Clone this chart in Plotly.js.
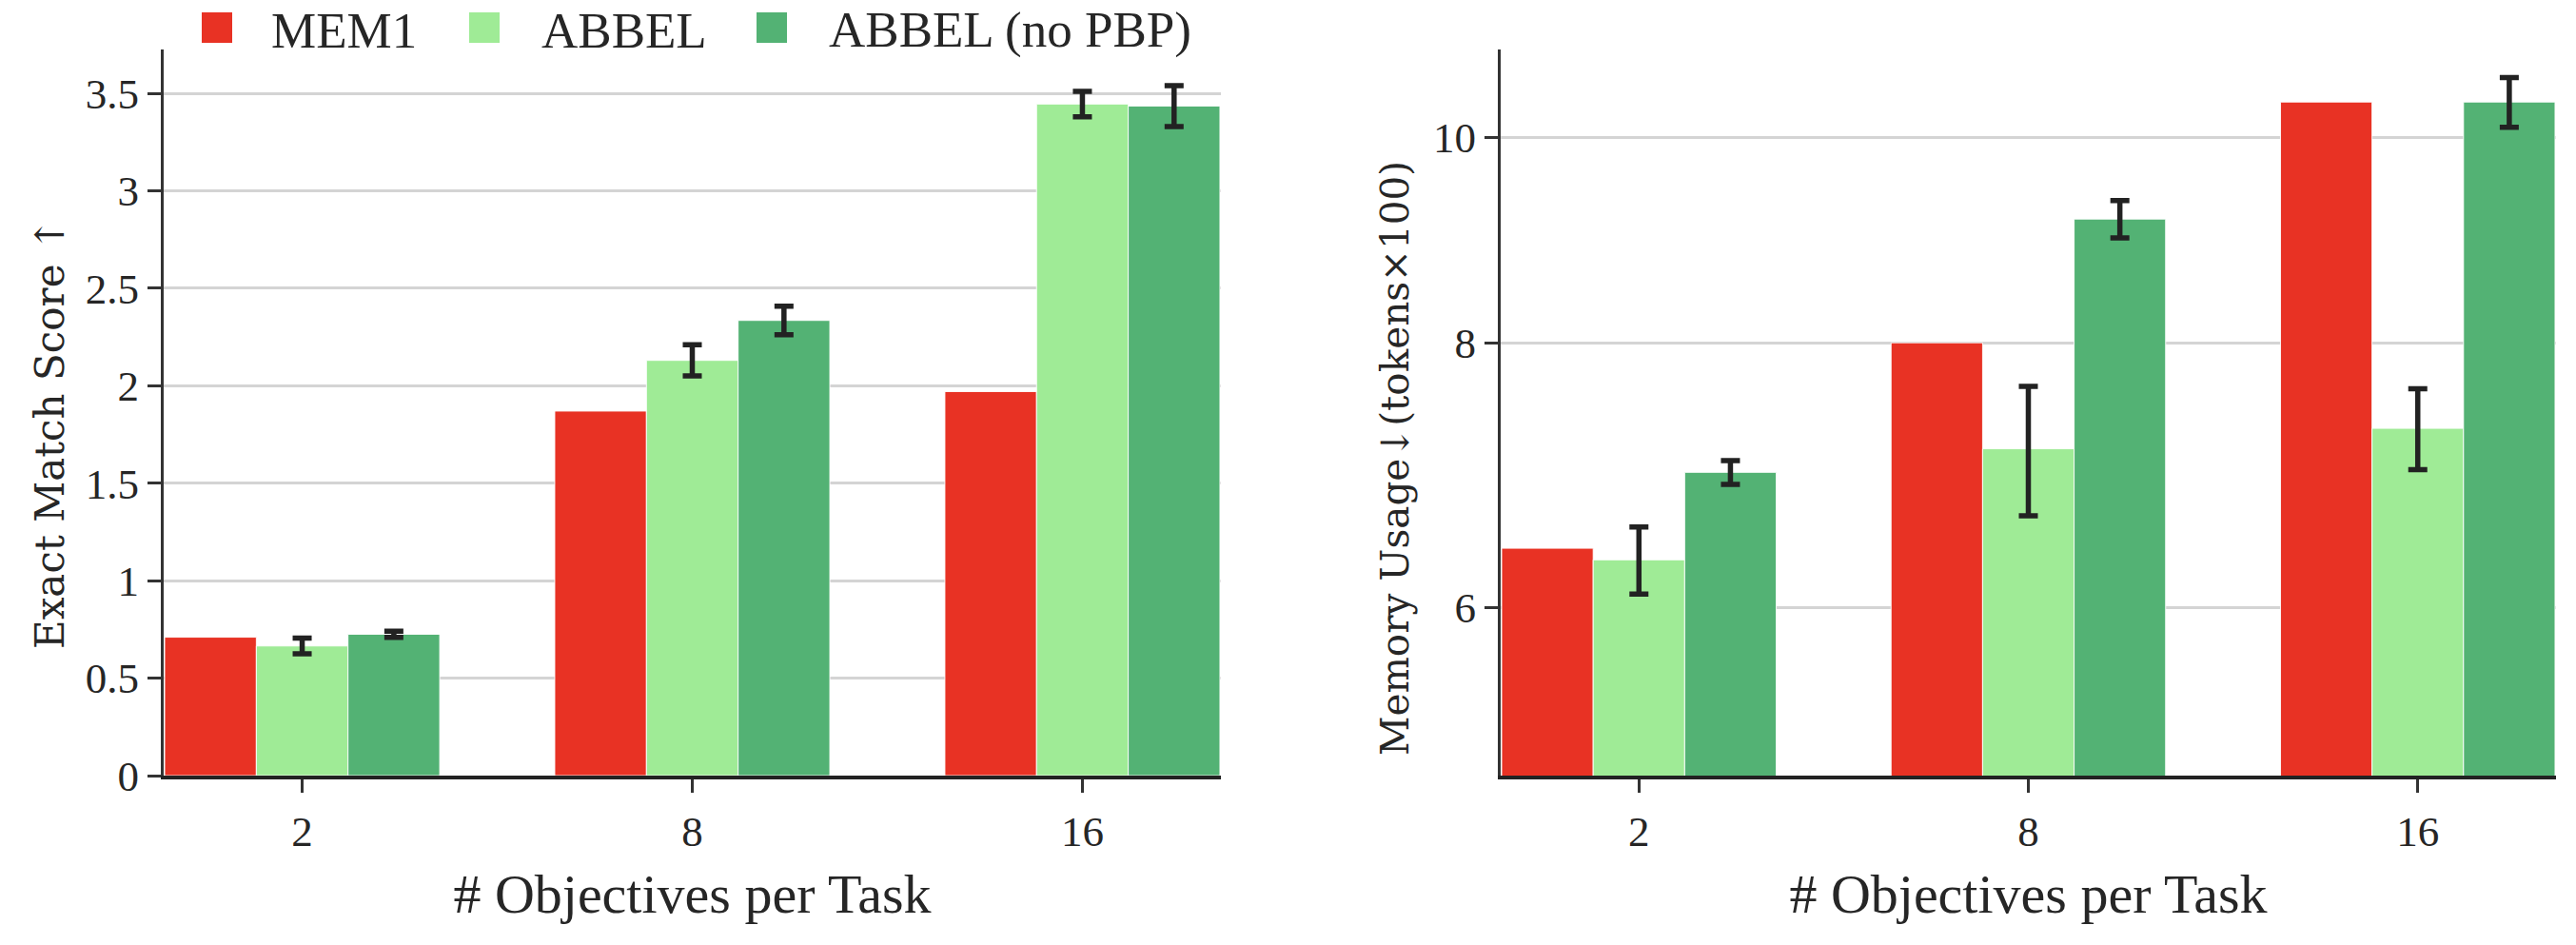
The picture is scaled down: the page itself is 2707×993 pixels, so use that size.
<!DOCTYPE html>
<html>
<head>
<meta charset="utf-8">
<script src="https://cdn.plot.ly/plotly-3.0.1.min.js"></script>
<style>
  html, body { margin: 0; padding: 0; background: #ffffff; }
  #chart { width: 2707px; height: 993px; }
</style>
</head>
<body>
<div id="chart"></div>
<script>
// Objectives per task (shared x categories)
const categories = ['2', '8', '16'];

// Series names and colours
const seriesNames = ['MEM1', 'ABBEL', 'ABBEL (no PBP)'];
const seriesColors = ['#e83224', '#9feb96', '#53b274'];

// Exact match score (left panel)
const emMem1 = [0.71, 1.87, 1.97];
const emAbbel = [0.665, 2.13, 3.445];
const emAbbelErr = [0.04, 0.08, 0.065];
const emNoPbp = [0.725, 2.335, 3.435];
const emNoPbpErr = [0.016, 0.073, 0.105];

// Memory usage in tokens x 100 (right panel, log scale)
const memMem1 = [6.40, 8.00, 10.39];
const memAbbel = [6.32, 7.13, 7.29];
const memAbbelErr = [0.23, 0.50, 0.32];
const memNoPbp = [6.95, 9.15, 10.39];
const memNoPbpErr = [0.09, 0.185, 0.28];

// Axis ticks and titles
const emTickVals = [0, 0.5, 1, 1.5, 2, 2.5, 3, 3.5];
const emTickText = ['0', '0.5', '1', '1.5', '2', '2.5', '3', '3.5'];
const memTickVals = [6, 8, 10];
const memTickText = ['6', '8', '10'];
const xTitle = '# Objectives per Task';
const emTitle = 'Exact Match Score ↑';
const memTitle = 'Memory Usage↓(tokens×100)';

const serif = 'Liberation Serif';
const titleFont = 'DejaVu Serif';
const ink = '#262626';

// Figure geometry (pixels)
const W = 2707, H = 993;
const M = { l: 172, r: 21, t: 52, b: 178 };
const plotW = W - M.l - M.r, plotH = H - M.t - M.b;
const px2paperX = (px) => (px - M.l) / plotW;
const px2paperY = (py) => (H - M.b - py) / plotH;

function errBar(arr) {
  return { type: 'data', array: arr, visible: true, color: '#222222', thickness: 5.5, width: 10 };
}

function bar(x, y, err, idx, xa, ya) {
  const t = {
    type: 'bar', x: x, y: y, name: seriesNames[idx], xaxis: xa, yaxis: ya,
    marker: { color: seriesColors[idx], line: { color: 'rgba(255,255,255,0.9)', width: 1 } },
    showlegend: false, hoverinfo: 'skip'
  };
  if (err) t.error_y = errBar(err);
  return t;
}

const data = [
  bar(categories, emMem1, null, 0, 'x', 'y'),
  bar(categories, emAbbel, emAbbelErr, 1, 'x', 'y'),
  bar(categories, emNoPbp, emNoPbpErr, 2, 'x', 'y'),
  bar(categories, memMem1, null, 0, 'x2', 'y2'),
  bar(categories, memAbbel, memAbbelErr, 1, 'x2', 'y2'),
  bar(categories, memNoPbp, memNoPbpErr, 2, 'x2', 'y2')
];

const xCommon = {
  type: 'category', range: [-0.355, 2.355], fixedrange: true,
  showline: true, linecolor: '#222222', linewidth: 3.5,
  ticks: 'outside', ticklen: 14, tickwidth: 2.5, tickcolor: '#333333',
  ticklabelstandoff: 2,
  tickfont: { family: serif, size: 45, color: ink },
  showgrid: false, zeroline: false,
  title: { text: xTitle, font: { family: serif, size: 58, color: ink }, standoff: 22 }
};

const yCommon = {
  showline: true, linecolor: '#333333', linewidth: 3,
  ticks: 'outside', ticklen: 14, tickwidth: 3, tickcolor: '#333333',
  tickfont: { family: serif, size: 45, color: ink },
  showgrid: true, gridcolor: '#d4d4d4', gridwidth: 3,
  zeroline: false, fixedrange: true
};

// Legend: a row of swatches with labels above the left panel
const legendSwatchX = [212, 493, 795];
const legendTextX = [283, 567, 869];
const shapes = seriesColors.map((c, i) => ({
  type: 'rect', xref: 'paper', yref: 'paper',
  x0: px2paperX(legendSwatchX[i]), x1: px2paperX(legendSwatchX[i] + 32),
  y0: px2paperY(45), y1: px2paperY(13),
  fillcolor: c, line: { width: 0 }
}));
const annotations = seriesNames.map((n, i) => ({
  xref: 'paper', yref: 'paper', x: px2paperX(legendTextX[i]), y: px2paperY(32),
  xanchor: 'left', yanchor: 'middle', showarrow: false,
  text: n, font: { family: serif, size: 53, color: ink }
}));

// Vertical value-axis titles
annotations.push({
  xref: 'paper', yref: 'paper', x: px2paperX(52), y: px2paperY(456),
  xanchor: 'center', yanchor: 'middle', textangle: -90, showarrow: false,
  text: emTitle, font: { family: titleFont, size: 42, color: ink }
});
annotations.push({
  xref: 'paper', yref: 'paper', x: px2paperX(1466), y: px2paperY(482),
  xanchor: 'center', yanchor: 'middle', textangle: -90, showarrow: false,
  text: memTitle, font: { family: titleFont, size: 40.5, color: ink }
});

const layout = {
  width: W, height: H,
  margin: M,
  paper_bgcolor: '#ffffff', plot_bgcolor: '#ffffff',
  barmode: 'group', bargap: 0.295, bargroupgap: 0,
  showlegend: false,
  xaxis: Object.assign({}, xCommon, { domain: [0, 0.44192], anchor: 'y' }),
  xaxis2: Object.assign({}, xCommon, { domain: [0.55887, 1], anchor: 'y2' }),
  yaxis: Object.assign({}, yCommon, {
    anchor: 'x', range: [0, 3.725],
    tickmode: 'array', tickvals: emTickVals, ticktext: emTickText
  }),
  yaxis2: Object.assign({}, yCommon, {
    anchor: 'x2', type: 'log', range: [Math.log10(5), Math.log10(11)],
    tickmode: 'array', tickvals: memTickVals, ticktext: memTickText
  }),
  shapes: shapes,
  annotations: annotations
};

Plotly.newPlot('chart', data, layout, { displayModeBar: false, staticPlot: true });
</script>
</body>
</html>
